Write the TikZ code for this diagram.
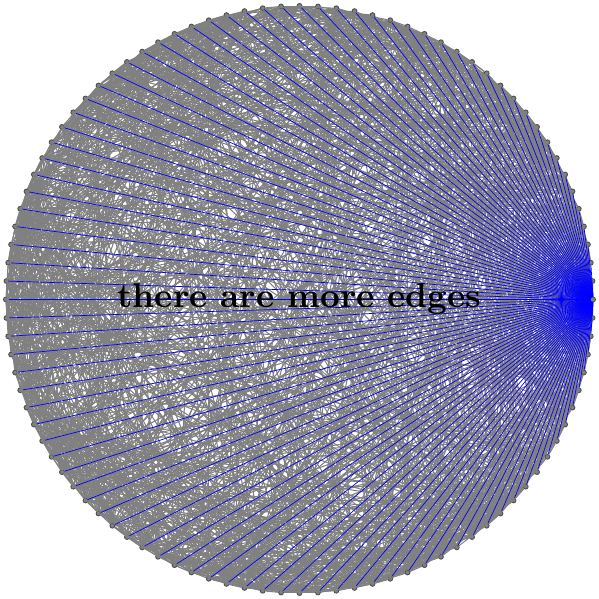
\documentclass[tikz,border=0pt]{standalone}
\begin{document}
\begin{tikzpicture}[
    vertex/.style={circle,draw=black!70,fill=gray,inner sep=0pt,minimum size=1.4pt,line width=0.25pt},
    edge/.style={gray,line width=0.3pt},
    hub/.style={blue,very thin}]
  \useasboundingbox (-3.06,-3.06) rectangle (3.06,3.06);
  \pgfmathsetseed{7}
  \foreach \i in {0,...,99}
    \node[vertex] (v\i) at ({3.6*\i}:3) {};
  % a random quarter of the pairs of the other vertices
  \foreach \i in {1,...,98}{
    \pgfmathtruncatemacro{\k}{\i+1}
    \foreach \j in {\k,...,99}{
      \pgfmathrandominteger{\r}{0}{3}
      \ifnum\r=0 \draw[edge] (v\i) -- (v\j);\fi
    }
  }
  % the hub on the right
  \foreach \j in {1,...,99}
    \draw[hub] (v0) -- (v\j);
  \node[font=\bfseries] (msg) at (0,0) {there are more edges};
\end{tikzpicture}
\end{document}
